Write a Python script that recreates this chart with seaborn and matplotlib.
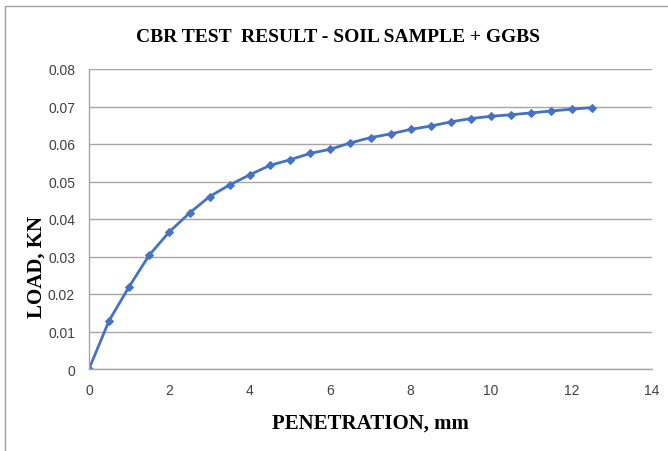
import matplotlib
matplotlib.use("Agg")
import matplotlib.pyplot as plt
import seaborn as sns
import pandas as pd
from matplotlib.lines import Line2D

penetration = [0, 0.5, 1.0, 1.5, 2.0, 2.5, 3.0, 3.5, 4.0, 4.5, 5.0, 5.5, 6.0,
               6.5, 7.0, 7.5, 8.0, 8.5, 9.0, 9.5, 10.0, 10.5, 11.0, 11.5, 12.0, 12.5]
load = [0, 0.0129, 0.0220, 0.0304, 0.0366, 0.0416, 0.0460, 0.0491, 0.0518,
        0.0543, 0.0558, 0.0575, 0.0586, 0.0603, 0.0617, 0.0627, 0.0639, 0.0648,
        0.0659, 0.0668, 0.0674, 0.0678, 0.0683, 0.0688, 0.0693, 0.0697]
x_ticks = [0, 2, 4, 6, 8, 10, 12, 14]
y_ticks = [0, 0.01, 0.02, 0.03, 0.04, 0.05, 0.06, 0.07, 0.08]
y_tick_labels = ["0", "0.01", "0.02", "0.03", "0.04", "0.05", "0.06", "0.07", "0.08"]

df = pd.DataFrame({"penetration": penetration, "load": load})

sns.set_theme(style="white")
plt.rcParams["font.family"] = ["Liberation Sans", "DejaVu Sans"]

fig = plt.figure(figsize=(6.68, 4.52), dpi=100)
ax = fig.add_axes([89 / 668, 1 - 370 / 452, (652 - 89) / 668, 300 / 452])

sns.lineplot(data=df, x="penetration", y="load", ax=ax, color="#4472C4",
             linewidth=2, marker="D", markersize=4.5, markeredgecolor="#4472C4")

ax.set_xlim(0, 14)
ax.set_ylim(0, 0.08)
ax.set_xticks(x_ticks)
ax.set_xticklabels([str(t) for t in x_ticks])
ax.set_yticks(y_ticks)
ax.set_yticklabels(y_tick_labels)
ax.yaxis.grid(True, color="#A6A6A6", linewidth=1)
ax.xaxis.grid(False)
ax.set_axisbelow(True)
for s in ["top", "right"]:
    ax.spines[s].set_visible(False)
for s in ["left", "bottom"]:
    ax.spines[s].set_color("#A6A6A6")
    ax.spines[s].set_linewidth(1)
ax.tick_params(axis="both", which="major", labelsize=10, colors="#404040",
               length=4, width=1, direction="out")
ax.tick_params(axis="x", color="#A6A6A6", pad=6)
ax.tick_params(axis="y", color="#A6A6A6", pad=6)

ax.set_xlabel("PENETRATION, mm", family=["Liberation Serif", "DejaVu Serif"],
              fontweight="bold", fontsize=15, color="black", labelpad=11)
ax.set_ylabel("LOAD, KN", family=["Liberation Serif", "DejaVu Serif"],
              fontweight="bold", fontsize=15, color="black")
ax.yaxis.set_label_coords((37 - 89) / 563, (370 - 267) / 300)
ax.yaxis.label.set_verticalalignment("center")

fig.text(338 / 668, 1 - 37 / 452, "CBR TEST  RESULT - SOIL SAMPLE + GGBS",
         family=["Liberation Serif", "DejaVu Serif"], fontweight="bold",
         fontsize=14, ha="center", va="center", color="black")

# outer chart border (top and left)
fig.add_artist(Line2D([5 / 668, 1.0], [1 - 7 / 452, 1 - 7 / 452],
                      transform=fig.transFigure, color="#A0A0A0", linewidth=1))
fig.add_artist(Line2D([5 / 668, 5 / 668], [0.0, 1 - 7 / 452],
                      transform=fig.transFigure, color="#A0A0A0", linewidth=1))

fig.savefig("out.png", dpi=100)
